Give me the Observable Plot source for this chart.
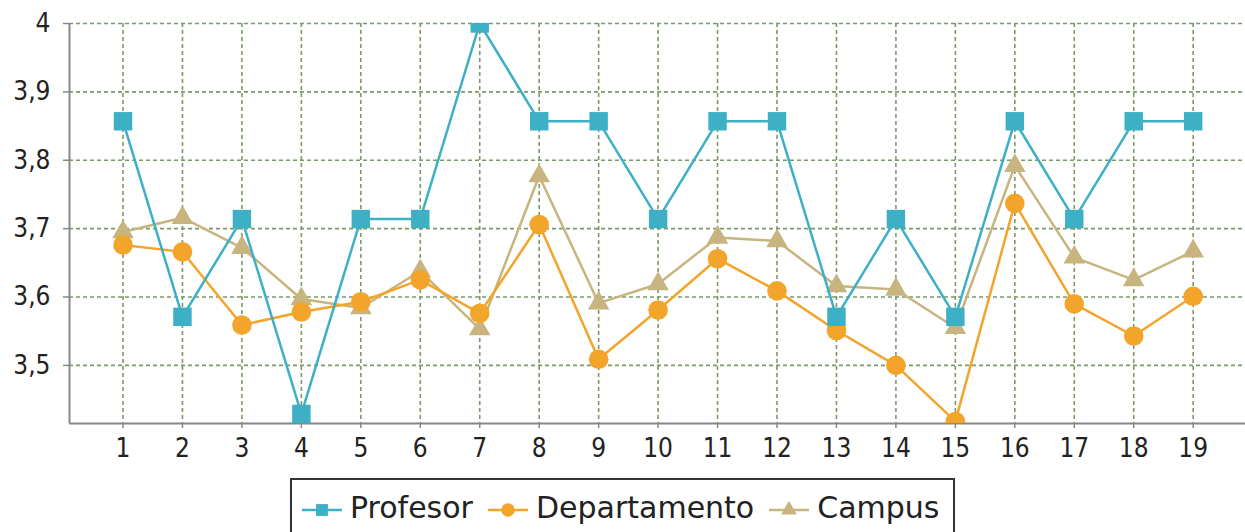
<!DOCTYPE html>
<html>
<head>
<meta charset="utf-8">
<script src="https://cdn.jsdelivr.net/npm/d3@7"></script>
<script src="https://cdn.jsdelivr.net/npm/@observablehq/plot@0.6"></script>
<style>
  html, body { margin: 0; padding: 0; background: #fff; overflow: hidden; }
  #chart svg { display: block; }
  #legend {
    position: absolute; left: 290px; top: 478px;
    width: 665px; height: 70px;
    border: 2px solid #333; box-sizing: border-box;
    display: flex; align-items: flex-start; padding: 13px 0 0 10px;
    font-family: "DejaVu Sans", sans-serif; font-size: 30px; color: #222;
    line-height: 30px;
  }
  .item { display: flex; align-items: center; margin-right: 15px; }
  .item svg { margin-right: 8px; }
</style>
</head>
<body>
<div id="chart"></div>
<div id="legend"></div>
<script>
const categories = [1, 2, 3, 4, 5, 6, 7, 8, 9, 10, 11, 12, 13, 14, 15, 16, 17, 18, 19];
const profesor = [3.857, 3.571, 3.714, 3.429, 3.714, 3.714, 4.0, 3.857, 3.857, 3.714, 3.857, 3.857, 3.571, 3.714, 3.571, 3.857, 3.714, 3.857, 3.857];
const departamento = [3.676, 3.666, 3.559, 3.578, 3.593, 3.625, 3.576, 3.706, 3.509, 3.581, 3.656, 3.609, 3.551, 3.500, 3.418, 3.737, 3.590, 3.543, 3.601];
const campus = [3.695, 3.716, 3.672, 3.597, 3.584, 3.638, 3.553, 3.777, 3.591, 3.619, 3.687, 3.682, 3.616, 3.611, 3.555, 3.792, 3.658, 3.625, 3.667];
const yTicks = [3.5, 3.6, 3.7, 3.8, 3.9, 4.0];
const seriesNames = ["Profesor", "Departamento", "Campus"];
const colors = {Profesor: "#3db0c5", Departamento: "#f2a42b", Campus: "#c8b47f"};
const symbols = {Profesor: "square", Departamento: "circle", Campus: "triangle"};
const radii = {Profesor: 10.4, Departamento: 9.8, Campus: 8};

const rows = (name, vals) => categories.map((c, i) => ({cat: c, v: vals[i], s: name}));
const data = {
  Profesor: rows("Profesor", profesor),
  Departamento: rows("Departamento", departamento),
  Campus: rows("Campus", campus)
};
const xDom = [0.1, 19.88];
const yDom = [3.415, 4.0];
const grid = {stroke: "#7a9a68", strokeOpacity: 1, strokeDasharray: "4,3", strokeWidth: 1.6};

const drawOrder = ["Campus", "Departamento", "Profesor"];
const seriesMarks = drawOrder.flatMap(name => [
  Plot.line(data[name], {x: "cat", y: "v", stroke: colors[name], strokeWidth: 2.5, clip: true}),
  Plot.dot(data[name], {x: "cat", y: "v", symbol: symbols[name], r: radii[name], fill: colors[name], stroke: "none", clip: true})
]);

const chart = Plot.plot({
  width: 1245, height: 470,
  marginLeft: 69, marginRight: 0, marginTop: 23, marginBottom: 47,
  x: {domain: xDom, label: null},
  y: {domain: yDom, label: null},
  style: {fontFamily: "'DejaVu Sans Condensed', 'DejaVu Sans', sans-serif", fontSize: "26px", color: "#222", background: "#fff"},
  marks: [
    Plot.gridX(categories, grid),
    Plot.gridY(yTicks, grid),
    Plot.axisX(categories, {tickSize: 5, tickPadding: 10, stroke: "#888", strokeWidth: 1.5, label: null, tickFormat: d => String(d)}),
    Plot.axisY(yTicks, {tickSize: 6, tickPadding: 13, stroke: "#888", strokeWidth: 1.5, label: null,
      tickFormat: d => (d === 4 ? "4" : d.toFixed(1).replace(".", ","))}),
    Plot.ruleX([xDom[0]], {stroke: "#888", strokeWidth: 2}),
    Plot.ruleY([yDom[0]], {stroke: "#888", strokeWidth: 2}),
    ...seriesMarks
  ]
});
document.getElementById("chart").appendChild(chart);

// Legend
const legend = document.getElementById("legend");
seriesNames.forEach(name => {
  const item = document.createElement("div");
  item.className = "item";
  const ns = "http://www.w3.org/2000/svg";
  const svg = document.createElementNS(ns, "svg");
  svg.setAttribute("width", 40); svg.setAttribute("height", 30);
  const line = document.createElementNS(ns, "line");
  line.setAttribute("x1", 0); line.setAttribute("x2", 40);
  line.setAttribute("y1", 17); line.setAttribute("y2", 17);
  line.setAttribute("stroke", colors[name]); line.setAttribute("stroke-width", 2.5);
  svg.appendChild(line);
  const path = document.createElementNS(ns, "path");
  const symType = {square: d3.symbolSquare, circle: d3.symbolCircle, triangle: d3.symbolTriangle}[symbols[name]];
  path.setAttribute("d", d3.symbol(symType, name === "Campus" ? 110 : 140)());
  path.setAttribute("transform", "translate(20,17)");
  path.setAttribute("fill", colors[name]);
  svg.appendChild(path);
  item.appendChild(svg);
  const label = document.createElement("span");
  label.textContent = name;
  item.appendChild(label);
  legend.appendChild(item);
});
</script>
</body>
</html>
